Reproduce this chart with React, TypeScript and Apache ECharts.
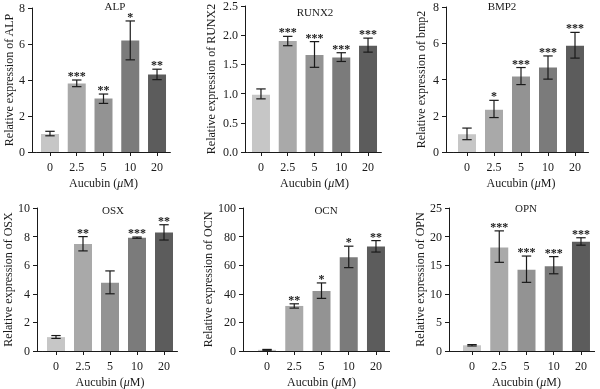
import React, { useEffect, useRef } from "react";
import * as echarts from "echarts";

// ---- data ----
const categories = ["0", "2.5", "5", "10", "20"];

const alpMean = [1.0, 3.8, 2.97, 6.2, 4.3];
const alpLow = [0.9, 3.63, 2.7, 5.12, 4.02];
const alpHigh = [1.15, 4.0, 3.22, 7.28, 4.6];
const alpStars = ["", "***", "**", "*", "**"];

const runx2Mean = [0.98, 1.9, 1.66, 1.62, 1.82];
const runx2Low = [0.91, 1.82, 1.45, 1.55, 1.71];
const runx2High = [1.08, 1.98, 1.89, 1.7, 1.95];
const runx2Stars = ["", "***", "***", "***", "***"];

const bmp2Mean = [0.98, 2.33, 4.17, 4.66, 5.86];
const bmp2Low = [0.68, 1.9, 3.72, 4.02, 5.18];
const bmp2High = [1.32, 2.85, 4.66, 5.3, 6.6];
const bmp2Stars = ["", "*", "***", "***", "***"];

const osxMean = [0.97, 7.48, 4.78, 7.92, 8.28];
const osxLow = [0.88, 7.0, 4.0, 7.88, 7.76];
const osxHigh = [1.08, 8.0, 5.6, 7.97, 8.83];
const osxStars = ["", "**", "", "***", "**"];

const ocnMean = [0.8, 31.5, 41.9, 65.6, 73.0];
const ocnLow = [0.5, 30.0, 36.8, 58.3, 69.2];
const ocnHigh = [1.1, 33.0, 47.6, 73.3, 77.2];
const ocnStars = ["", "**", "*", "*", "**"];

const opnMean = [1.0, 18.1, 14.2, 14.8, 19.1];
const opnLow = [0.88, 15.5, 12.0, 13.5, 18.5];
const opnHigh = [1.12, 21.0, 16.6, 16.5, 19.8];
const opnStars = ["", "***", "***", "***", "***"];

const panels = [
  { title: "ALP", yName: "Relative expression of ALP", mean: alpMean, low: alpLow, high: alpHigh, stars: alpStars, max: 8, interval: 2, dec: 0 },
  { title: "RUNX2", yName: "Relative expression of RUNX2", mean: runx2Mean, low: runx2Low, high: runx2High, stars: runx2Stars, max: 2.5, interval: 0.5, dec: 1 },
  { title: "BMP2", yName: "Relative expression of bmp2", mean: bmp2Mean, low: bmp2Low, high: bmp2High, stars: bmp2Stars, max: 8, interval: 2, dec: 0 },
  { title: "OSX", yName: "Relative expression of OSX", mean: osxMean, low: osxLow, high: osxHigh, stars: osxStars, max: 10, interval: 2, dec: 0 },
  { title: "OCN", yName: "Relative expression of OCN", mean: ocnMean, low: ocnLow, high: ocnHigh, stars: ocnStars, max: 100, interval: 20, dec: 0 },
  { title: "OPN", yName: "Relative expression of OPN", mean: opnMean, low: opnLow, high: opnHigh, stars: opnStars, max: 25, interval: 5, dec: 0 },
];

// ---- layout ----
const layouts = [
  { axisX: 32, start: 36.6, end: 170.4, top: 8, bottom: 152, titleX: 115, titleY: 6, nameGap: 13 },
  { axisX: 245, start: 247.6, end: 381.4, top: 6, bottom: 152, titleX: 315, titleY: 12, nameGap: 28 },
  { axisX: 446, start: 453.5, end: 588.5, top: 7, bottom: 152, titleX: 502, titleY: 6, nameGap: 19 },
  { axisX: 37, start: 42.5, end: 177.5, top: 208, bottom: 351, titleX: 113, titleY: 210, nameGap: 15 },
  { axisX: 243, start: 253.4, end: 389.6, top: 208, bottom: 351, titleX: 326, titleY: 210, nameGap: 26 },
  { axisX: 449, start: 458.4, end: 594.6, top: 208, bottom: 351, titleX: 526, titleY: 208, nameGap: 19 },
];

const barColors = ["#c6c6c6", "#a9a9a9", "#939393", "#7b7b7b", "#5c5c5c"];
const FONT = "'Liberation Serif', 'Times New Roman', serif";
const INK = "#1a1a1a";

function buildOption() {
  const grid: any[] = [];
  const xAxis: any[] = [];
  const yAxis: any[] = [];
  const series: any[] = [];
  const graphic: any[] = [];

  panels.forEach((p, i) => {
    const l = layouts[i];
    grid.push({
      left: l.start,
      top: l.top,
      width: l.end - l.start,
      height: l.bottom - l.top,
      containLabel: false,
    });
    xAxis.push({
      type: "category",
      gridIndex: i,
      data: categories,
      axisLine: { lineStyle: { color: INK, width: 1 } },
      axisTick: { show: true, alignWithLabel: true, length: 4, lineStyle: { color: INK } },
      axisLabel: { color: INK, fontSize: 12, fontFamily: FONT, margin: 9 },
      name: "Aucubin ({i|μ}M)",
      nameLocation: "middle",
      nameGap: 25,
      nameTextStyle: {
        color: INK,
        fontSize: 12,
        fontFamily: FONT,
        rich: { i: { fontStyle: "italic", fontSize: 12, fontFamily: FONT, color: INK } },
      },
    });
    yAxis.push({
      type: "value",
      gridIndex: i,
      min: 0,
      max: p.max,
      interval: p.interval,
      offset: l.start - l.axisX,
      axisLine: { show: true, lineStyle: { color: INK, width: 1 } },
      axisTick: { show: true, length: 4, lineStyle: { color: INK } },
      splitLine: { show: false },
      axisLabel: {
        color: INK,
        fontSize: 12,
        fontFamily: FONT,
        margin: 7,
        formatter: (v: number) => v.toFixed(p.dec),
      },
      name: p.yName,
      nameLocation: "middle",
      nameGap: l.nameGap,
      nameTextStyle: { color: INK, fontSize: 12, fontFamily: FONT },
    });
    series.push({
      type: "bar",
      xAxisIndex: i,
      yAxisIndex: i,
      barWidth: 18,
      data: p.mean.map((v, k) => ({ value: v, itemStyle: { color: barColors[k] } })),
    });
    const stars = p.stars;
    series.push({
      type: "custom",
      xAxisIndex: i,
      yAxisIndex: i,
      z: 5,
      encode: { x: 0, y: [1, 2] },
      data: p.mean.map((_, k) => [k, p.low[k], p.high[k]]),
      renderItem: (params: any, api: any) => {
        const x = api.value(0);
        const lo = api.coord([x, api.value(1)]);
        const hi = api.coord([x, api.value(2)]);
        const cap = 4.7;
        const st = { stroke: INK, lineWidth: 1.2 };
        return {
          type: "group",
          children: [
            { type: "line", shape: { x1: lo[0], y1: lo[1], x2: hi[0], y2: hi[1] }, style: st },
            { type: "line", shape: { x1: hi[0] - cap, y1: hi[1], x2: hi[0] + cap, y2: hi[1] }, style: st },
            { type: "line", shape: { x1: lo[0] - cap, y1: lo[1], x2: lo[0] + cap, y2: lo[1] }, style: st },
            {
              type: "text",
              x: hi[0],
              y: hi[1] + 2,
              style: {
                text: stars[params.dataIndex],
                fill: INK,
                fontSize: 12,
                fontWeight: "bold",
                fontFamily: FONT,
                align: "center",
                verticalAlign: "bottom",
              },
            },
          ],
        };
      },
    });
    graphic.push({
      type: "text",
      x: l.titleX,
      y: l.titleY,
      style: {
        text: p.title,
        fill: INK,
        fontSize: 11,
        fontFamily: FONT,
        align: "center",
        verticalAlign: "middle",
      },
    });
    graphic.push({
      type: "line",
      shape: { x1: l.axisX, y1: l.bottom + 0.5, x2: l.start, y2: l.bottom + 0.5 },
      style: { stroke: INK, lineWidth: 1 },
    });
  });

  return {
    animation: false,
    backgroundColor: "#ffffff",
    textStyle: { fontFamily: FONT },
    grid,
    xAxis,
    yAxis,
    series,
    graphic,
  };
}

export default function App() {
  const ref = useRef<HTMLDivElement>(null);
  useEffect(() => {
    if (!ref.current) return;
    const chart = echarts.init(ref.current, null, { renderer: "svg" });
    chart.setOption(buildOption() as any);
    return () => chart.dispose();
  }, []);
  return (
    <div
      ref={ref}
      style={{
        position: "fixed",
        left: 0,
        top: 0,
        width: 600,
        height: 389,
        background: "#fff",
        filter: "grayscale(100%)",
      }}
    />
  );
}
